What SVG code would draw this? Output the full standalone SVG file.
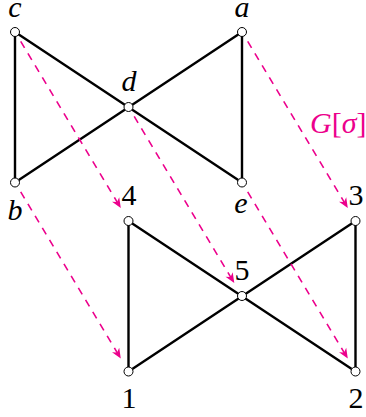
<svg xmlns="http://www.w3.org/2000/svg" width="366" height="417" viewBox="0 0 366 417">
<style>
.e{stroke:#000;stroke-width:2.4;fill:none;stroke-linecap:round}
.m{stroke:#EC008C;stroke-width:1.6;fill:none;stroke-dasharray:7.5 6.5;marker-end:url(#ah)}
.n{fill:#fff;stroke:#000;stroke-width:1}
.l{font-family:"Liberation Serif","DejaVu Serif",serif;font-size:30px;text-anchor:middle;fill:#000}
.i{font-style:italic}
.g{font-family:"Liberation Serif","DejaVu Serif",serif;font-size:30px;fill:#EC008C}
</style>
<defs>
<marker id="ah" markerUnits="userSpaceOnUse" markerWidth="20" markerHeight="20" viewBox="-10 -10 20 20" refX="0" refY="0" orient="auto">
<path d="M5,0 L-5,-4.2 L-2.2,0 L-5,4.2 Z" fill="#EC008C"/>
</marker>
</defs>
<g id="connectors">
<line class="e" x1="15" y1="32" x2="15" y2="182.5"/>
<line class="e" x1="242" y1="32" x2="242" y2="182.5"/>
<line class="e" x1="15" y1="32" x2="242" y2="182.5"/>
<line class="e" x1="15" y1="182.5" x2="242" y2="32"/>
<line class="e" x1="128.5" y1="221" x2="128.5" y2="371.5"/>
<line class="e" x1="355.5" y1="221" x2="355.5" y2="371.5"/>
<line class="e" x1="128.5" y1="221" x2="355.5" y2="371.5"/>
<line class="e" x1="128.5" y1="371.5" x2="355.5" y2="221"/>
<line class="m" x1="20.7" y1="41.4" x2="118.2" y2="203.8"/>
<line class="m" x1="20.7" y1="191.9" x2="118.2" y2="354.3"/>
<line class="m" x1="134.2" y1="116.4" x2="231.7" y2="278.8"/>
<line class="m" x1="247.7" y1="191.9" x2="345.2" y2="354.3"/>
<line class="m" x1="247.7" y1="41.4" x2="345.2" y2="203.8"/>
<text class="g" x="310" y="133"><tspan font-style="italic">G</tspan>[<tspan font-style="italic">σ</tspan>]</text>
</g>
<g id="node-c"><circle class="n" cx="15" cy="32" r="4.5"/><text class="l i" x="15" y="17">c</text></g>
<g id="node-a"><circle class="n" cx="242" cy="32" r="4.5"/><text class="l i" x="242" y="17">a</text></g>
<g id="node-d"><circle class="n" cx="128.5" cy="107" r="4.5"/><text class="l i" x="129" y="91">d</text></g>
<g id="node-b"><circle class="n" cx="15" cy="182.5" r="4.5"/><text class="l i" x="15" y="220">b</text></g>
<g id="node-e"><circle class="n" cx="242" cy="182.5" r="4.5"/><text class="l i" x="241" y="213">e</text></g>
<g id="node-4"><circle class="n" cx="128.5" cy="221" r="4.5"/><text class="l" x="129" y="205">4</text></g>
<g id="node-3"><circle class="n" cx="355.5" cy="221" r="4.5"/><text class="l" x="356" y="205">3</text></g>
<g id="node-5"><circle class="n" cx="242" cy="296" r="4.5"/><text class="l" x="242" y="280">5</text></g>
<g id="node-1"><circle class="n" cx="128.5" cy="371.5" r="4.5"/><text class="l" x="129" y="408">1</text></g>
<g id="node-2"><circle class="n" cx="355.5" cy="371.5" r="4.5"/><text class="l" x="356" y="408">2</text></g>
</svg>
